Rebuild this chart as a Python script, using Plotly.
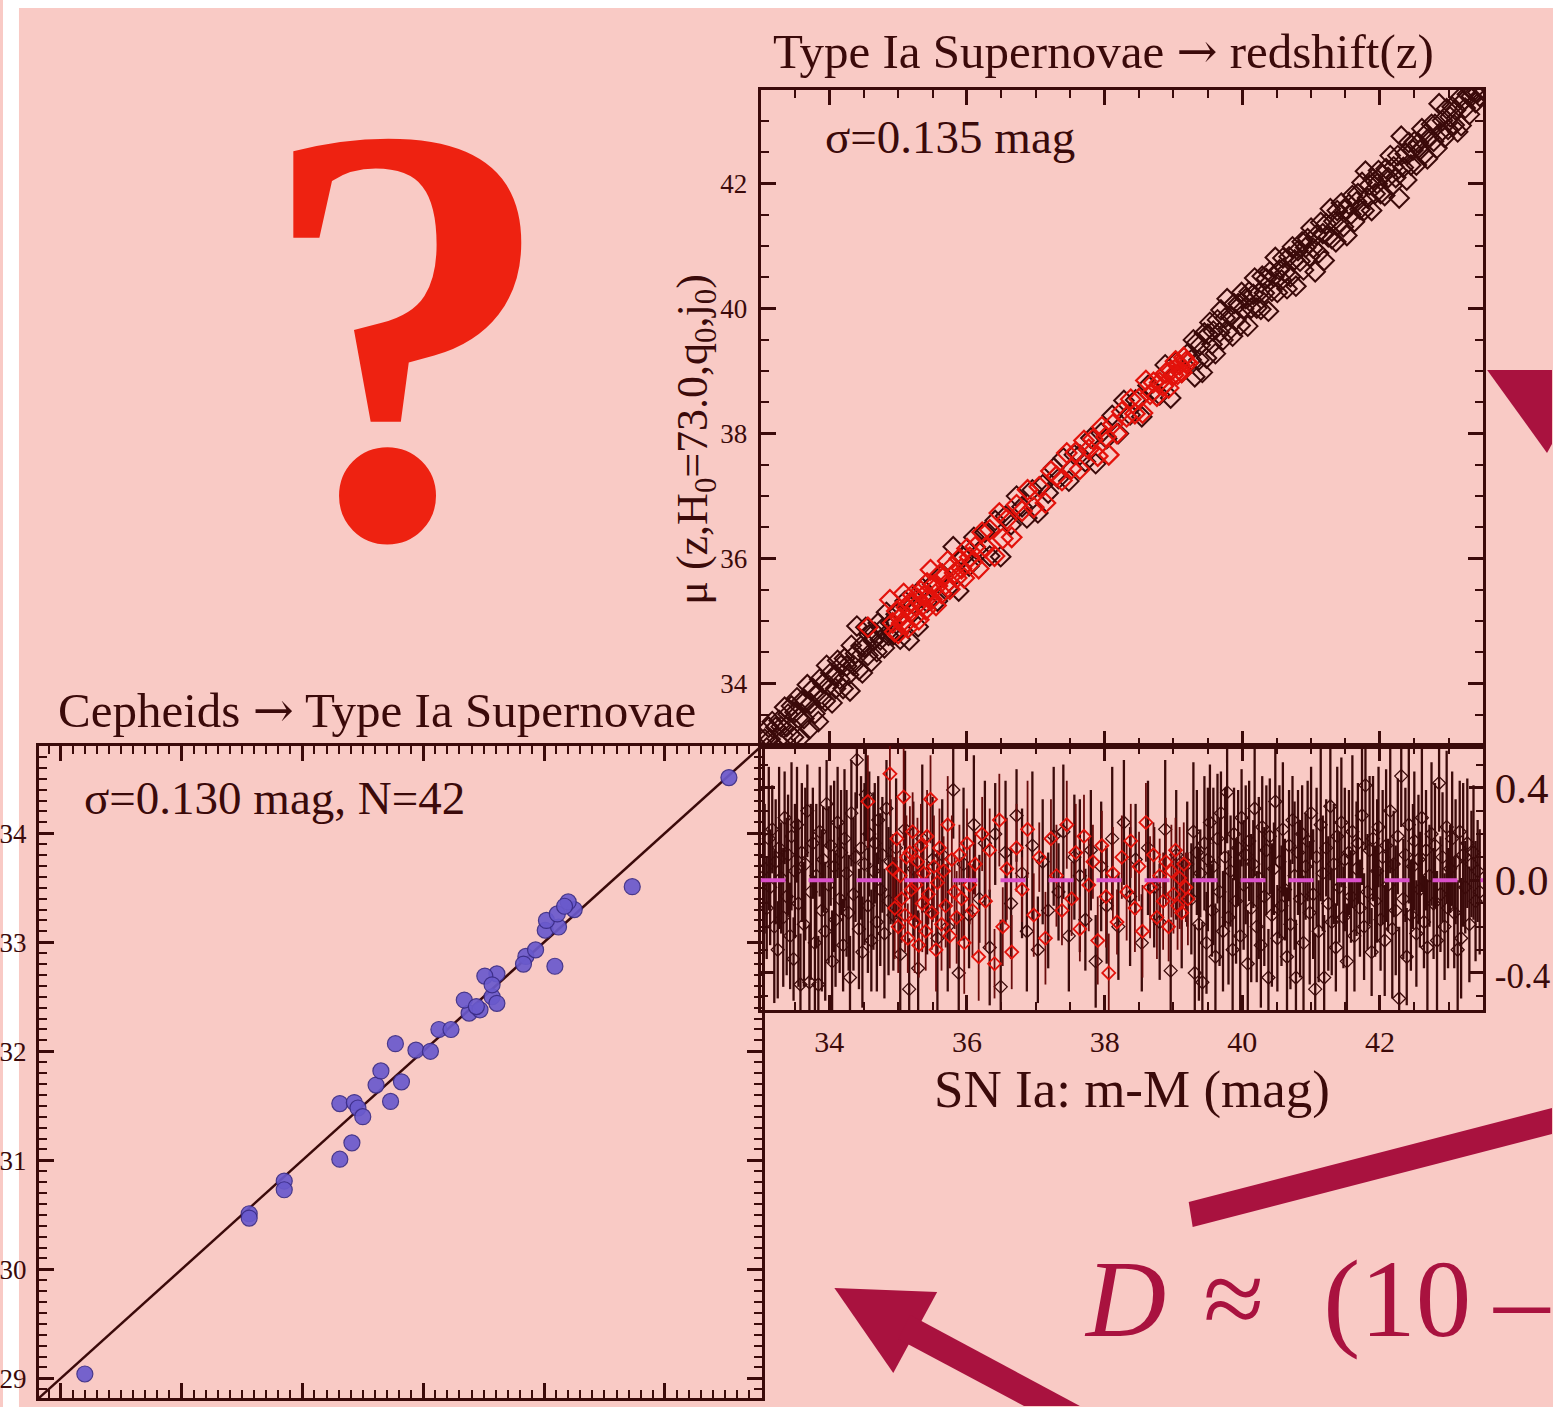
import plotly.graph_objects as go

W, H = 1553, 1407
BG = "#f9cac5"
INK = "#3b0a0a"
BLUE = "#6a5acd"
BLUE_EDGE = "#3a2c86"
RED = "#e3120b"
CRIMSON = "#a9123f"
QRED = "#ee2211"
MAGENTA = "#d94fc8"
FONT = "Liberation Serif"

# ---------------- Cepheids -> SN Ia panel ----------------
CEPH_SN = [29.20, 30.56, 30.56, 30.85, 30.85, 31.31, 31.31, 31.41, 31.43, 31.46,
           31.50, 31.61, 31.65, 31.73, 31.82, 31.77, 31.94, 32.06, 32.13, 32.23,
           32.38, 32.47, 32.34, 32.57, 32.61, 32.61, 32.51, 32.57, 32.85, 32.83,
           32.93, 33.09, 33.01, 33.12, 33.02, 33.11, 33.25, 33.20, 33.73, 34.53,
           33.17, 32.44]
CEPH_MU = [29.04, 30.51, 30.47, 30.81, 30.73, 31.52, 31.01, 31.16, 31.53, 31.48,
           31.40, 31.69, 31.82, 31.54, 31.72, 32.07, 32.01, 32.00, 32.20, 32.20,
           32.35, 32.38, 32.47, 32.50, 32.44, 32.71, 32.69, 32.61, 32.87, 32.80,
           32.93, 32.78, 33.11, 33.14, 33.20, 33.26, 33.30, 33.37, 33.51, 34.51,
           33.33, 32.41]
FIT_LINE = [28.8, 34.8]

# ---------------- SN Ia Hubble diagram ----------------
BLK_X = [33.06, 33.09, 33.12, 33.14, 33.17, 33.2, 33.22, 33.25, 33.27, 33.3,
         33.33, 33.35, 33.38, 33.4, 33.43, 33.45, 33.48, 33.5, 33.53, 33.55,
         33.58, 33.6, 33.63, 33.65, 33.68, 33.71, 33.73, 33.76, 33.79, 33.81,
         33.84, 33.86, 33.89, 33.91, 33.94, 33.96, 33.99, 34.02, 34.04, 34.07,
         34.09, 34.12, 34.15, 34.17, 34.2, 34.22, 34.25, 34.28, 34.3, 34.32,
         34.35, 34.38, 34.4, 34.43, 34.46, 34.48, 34.51, 34.53, 34.56, 34.58,
         34.61, 34.64, 34.66, 34.69, 34.71, 34.74, 34.77, 34.8, 34.83, 34.86,
         34.89, 34.93,
         34.97, 35.03, 35.1, 35.16, 35.22, 35.29, 35.35, 35.42, 35.5, 35.57,
         35.64, 35.72, 35.8, 35.88, 35.95, 36.03, 36.1, 36.18, 36.26, 36.33,
         36.41, 36.49, 36.56, 36.64, 36.72, 36.8, 36.87, 36.95, 37.03, 37.1,
         37.18, 37.26, 37.33, 37.4, 37.48, 37.56, 37.64, 37.72, 37.8, 37.87,
         37.95, 38.03, 38.11, 38.2, 38.28, 38.37, 38.45, 38.54, 38.63, 38.72,
         38.8, 38.88, 38.96, 39.04, 39.12, 39.2,
         39.26, 39.29, 39.31, 39.34, 39.37, 39.39, 39.42, 39.45, 39.48, 39.5,
         39.53, 39.56, 39.58, 39.61, 39.64, 39.67, 39.69, 39.72, 39.75, 39.78,
         39.8, 39.83, 39.86, 39.88, 39.91, 39.94, 39.97, 39.99, 40.02, 40.05,
         40.08, 40.1, 40.13, 40.16, 40.18, 40.21, 40.24, 40.27, 40.29, 40.32,
         40.35, 40.38, 40.4, 40.43, 40.46, 40.48, 40.51, 40.54, 40.57, 40.59,
         40.62, 40.65, 40.68, 40.7, 40.73, 40.76, 40.78, 40.81, 40.84, 40.87,
         40.89, 40.92, 40.95, 40.98, 41.0, 41.03, 41.06, 41.08, 41.11, 41.14,
         41.17, 41.19, 41.22, 41.25, 41.28, 41.3, 41.33, 41.36, 41.38, 41.41,
         41.44, 41.47, 41.49, 41.52, 41.55, 41.58, 41.6, 41.63, 41.66, 41.68,
         41.71, 41.74, 41.77, 41.79, 41.82, 41.85, 41.88, 41.9, 41.93, 41.96,
         41.98, 42.01, 42.04, 42.07, 42.09, 42.12, 42.15, 42.18, 42.2, 42.23,
         42.26, 42.28, 42.31, 42.34, 42.37, 42.39, 42.42, 42.45, 42.48, 42.5,
         42.53, 42.56, 42.58, 42.61, 42.64, 42.67, 42.69, 42.72, 42.75, 42.78,
         42.8, 42.83, 42.86, 42.88, 42.91, 42.94, 42.97, 42.99, 43.02, 43.05,
         43.08, 43.1, 43.13, 43.16, 43.18, 43.21, 43.24, 43.27, 43.3, 43.33,
         43.36, 43.39, 43.42, 43.45]
BLK_R = [0.05, -0.12, 0.18, -0.03, 0.22, -0.2, 0.08, -0.3, 0.14, 0.01,
         -0.16, 0.27, -0.07, 0.11, -0.24, 0.19, -0.34, 0.04, 0.24, -0.1,
         -0.45, 0.12, -0.19, 0.07, 0.3, -0.44, -0.05, 0.16, -0.27, 0.02,
         -0.45, 0.21, -0.13, 0.09, -0.22, 0.33, -0.02, 0.15, -0.35, 0.06,
         -0.17, 0.25, -0.08, 0.12, -0.28, 0.18, 0.03, -0.14, -0.42, 0.29,
         -0.06, 0.1, 0.52, -0.21, 0.14, -0.31, 0.07, 0.37, -0.11, 0.2,
         -0.26, 0.04, 0.16, -0.18, 0.26, -0.04, 0.11, -0.23, 0.31, -0.09,
         0.08, -0.15,
         0.14, -0.32, 0.22, -0.47, 0.05, -0.38, 0.18, -0.12, 0.09, -0.25,
         0.11, -0.2, 0.39, -0.4, 0.07, -0.15, 0.24, -0.08, 0.16, -0.29,
         0.2, -0.46, 0.12, -0.1, 0.28, 0.03, -0.22, 0.15, -0.3, 0.08,
         -0.13, 0.19, -0.05, 0.21, -0.24, 0.1, 0.02, -0.17, 0.13, -0.35,
         0.06, -0.11, 0.18, -0.2, 0.25, -0.07, 0.09, -0.27, 0.14, -0.03,
         -0.18, 0.22, -0.39, 0.11, -0.14, 0.07,
         -0.08, 0.21, -0.4, 0.12, -0.19, 0.03, -0.44, 0.16, -0.27, 0.09,
         0.25, -0.13, 0.06, -0.33, 0.18, -0.05, 0.29, -0.22, 0.1, 0.38,
         -0.16, 0.04, -0.3, 0.2, -0.09, 0.14, -0.24, 0.27, -0.02, 0.11,
         -0.36, 0.17, -0.12, 0.07, 0.31, -0.2, 0.01, -0.28, 0.23, -0.07,
         0.13, -0.42, 0.19, -0.15, 0.05, 0.34, -0.25, 0.08, -0.11, 0.22,
         -0.04, -0.33, 0.15, -0.19, 0.26, 0.02, -0.42, 0.12, -0.08, 0.2,
         -0.27, 0.06, 0.17, -0.14, 0.29, -0.06, -0.47, 0.1, -0.22, 0.24,
         0.03, -0.42, 0.14, -0.1, 0.32, -0.18, 0.07, -0.29, 0.19, -0.03,
         0.25, -0.16, 0.09, -0.35, 0.12, -0.07, 0.21, -0.24, 0.05, 0.16,
         -0.12, 0.28, -0.2, 0.41, -0.05, 0.13, -0.31, 0.18, -0.09, 0.04,
         0.23, -0.17, 0.1, -0.26, 0.15, -0.02, 0.3, -0.21, 0.07, -0.13,
         0.19, -0.51, 0.45, -0.08, 0.11, -0.33, 0.24, -0.15, 0.06, 0.17,
         -0.23, 0.09, -0.04, 0.27, -0.18, 0.13, -0.29, 0.02, 0.2, -0.1,
         0.15, -0.26, 0.42, -0.06, 0.1, -0.2, 0.23, -0.12, 0.05, 0.18,
         -0.14, 0.08, -0.3, 0.21, -0.25, 0.11, -0.03, 0.16, -0.19, 0.07,
         0.12, -0.09, 0.04, -0.05]
BLK_E = [0.28, 0.22, 0.31, 0.25, 0.19, 0.33, 0.27, 0.21, 0.35, 0.24,
         0.3, 0.2, 0.34, 0.26, 0.23, 0.32, 0.18, 0.29, 0.25, 0.36,
         0.22, 0.3, 0.27, 0.33, 0.2, 0.25, 0.38, 0.24, 0.29, 0.31,
         0.21, 0.28, 0.35, 0.23, 0.3, 0.19, 0.34, 0.26, 0.22, 0.37,
         0.29, 0.24, 0.32, 0.27, 0.2, 0.3, 0.36, 0.25, 0.18, 0.23,
         0.33, 0.28, 0.21, 0.26, 0.31, 0.24, 0.35, 0.2, 0.29, 0.27,
         0.22, 0.34, 0.26, 0.3, 0.19, 0.33, 0.25, 0.28, 0.21, 0.32,
         0.27, 0.24,
         0.3, 0.26, 0.34, 0.22, 0.29, 0.25, 0.32, 0.2, 0.27, 0.31,
         0.24, 0.28, 0.21, 0.26, 0.33, 0.23, 0.3, 0.19, 0.27, 0.25,
         0.22, 0.29, 0.31, 0.24, 0.2, 0.28, 0.26, 0.32, 0.23, 0.27,
         0.25, 0.3, 0.21, 0.29, 0.24, 0.27, 0.33, 0.22, 0.26, 0.2,
         0.28, 0.25, 0.31, 0.23, 0.27, 0.3, 0.24, 0.21, 0.29, 0.26,
         0.25, 0.3, 0.22, 0.28, 0.24, 0.27,
         0.24, 0.3, 0.21, 0.27, 0.33, 0.19, 0.26, 0.29, 0.22, 0.31,
         0.25, 0.2, 0.34, 0.23, 0.28, 0.32, 0.18, 0.26, 0.3, 0.22,
         0.29, 0.24, 0.31, 0.2, 0.27, 0.25, 0.33, 0.21, 0.28, 0.3,
         0.23, 0.26, 0.32, 0.19, 0.29, 0.24, 0.35, 0.27, 0.22, 0.3,
         0.28, 0.21, 0.25, 0.31, 0.2, 0.27, 0.23, 0.33, 0.26, 0.29,
         0.22, 0.3, 0.24, 0.28, 0.19, 0.32, 0.25, 0.27, 0.34, 0.21,
         0.29, 0.23, 0.26, 0.31, 0.2, 0.28, 0.24, 0.3, 0.22, 0.33,
         0.25, 0.27, 0.21, 0.29, 0.32, 0.23, 0.26, 0.19, 0.3, 0.24,
         0.28, 0.22, 0.31, 0.25, 0.27, 0.2, 0.33, 0.24, 0.29, 0.26,
         0.21, 0.3, 0.23, 0.28, 0.25, 0.32, 0.19, 0.27, 0.24, 0.31,
         0.26, 0.22, 0.29, 0.24, 0.33, 0.2, 0.27, 0.3, 0.23, 0.28,
         0.25, 0.31, 0.22, 0.26, 0.29, 0.21, 0.34, 0.24, 0.27, 0.3,
         0.23, 0.28, 0.25, 0.32, 0.2, 0.26, 0.29, 0.22, 0.31, 0.24,
         0.27, 0.3, 0.21, 0.25, 0.28, 0.23, 0.33, 0.26, 0.19, 0.29,
         0.24, 0.27, 0.3, 0.22, 0.26, 0.31, 0.2, 0.28, 0.25, 0.23,
         0.29, 0.26, 0.22, 0.27]

RED_X = [34.56, 34.88, 34.92, 34.95, 34.98, 35.0, 35.03, 35.05, 35.08, 35.1,
         35.12, 35.14, 35.17, 35.19, 35.21, 35.24, 35.26, 35.28, 35.3, 35.33,
         35.35, 35.37, 35.4, 35.42, 35.44, 35.47, 35.49, 35.52, 35.55, 35.57,
         35.6, 35.63, 35.66, 35.69, 35.72, 35.75, 35.78, 35.82, 35.85, 35.89,
         35.92, 35.96, 36.0, 36.04, 36.08, 36.12, 36.17, 36.22, 36.27, 36.33,
         36.4, 36.47, 36.52, 36.58, 36.65, 36.72, 36.8, 36.88, 36.97, 37.05,
         37.14, 37.22, 37.3, 37.38, 37.45, 37.52, 37.58, 37.64, 37.7, 37.77,
         37.83, 37.9, 37.96, 38.02, 38.06, 38.12, 38.18, 38.25, 38.32, 38.38,
         38.44, 38.5, 38.55, 38.6, 38.66, 38.71, 38.76, 38.8, 38.85, 38.89,
         38.93, 38.97, 39.0, 39.03, 39.06, 39.09, 39.12, 39.15, 39.18, 39.21]
RED_R = [0.34, 0.46, 0.05, -0.12, 0.18, -0.2, 0.02, -0.08, 0.36, -0.15,
         0.1, -0.25, 0.12, -0.04, 0.21, -0.18, -0.02, 0.08, -0.28, 0.15,
         -0.1, 0.03, -0.22, 0.19, -0.06, 0.35, -0.14, 0.06, -0.3, -0.01,
         0.14, -0.19, 0.04, -0.11, 0.24, -0.24, 0.09, -0.05, -0.16, 0.11,
         -0.08, -0.27, 0.16, -0.02, -0.13, 0.07, -0.33, 0.2, -0.09, 0.13,
         -0.36, 0.26, -0.2, 0.05, -0.31, 0.14, -0.04, 0.22, -0.15, 0.1,
         -0.25, 0.18, 0.02, -0.13, 0.24, -0.08, 0.12, -0.21, 0.19, -0.02,
         0.08, -0.26, 0.15, -0.07, -0.4, 0.03, -0.18, 0.1, -0.05, 0.17,
         -0.12, 0.06, -0.22, 0.25, -0.03, 0.11, -0.16, 0.02, -0.09, 0.08,
         -0.2, 0.04, -0.06, 0.13, -0.11, 0.01, -0.14, 0.07, -0.03, -0.08]
RED_E = [0.2, 0.18, 0.15, 0.22, 0.17, 0.2, 0.14, 0.19, 0.21, 0.16,
         0.18, 0.15, 0.2, 0.13, 0.17, 0.22, 0.16, 0.19, 0.14, 0.18,
         0.21, 0.15, 0.17, 0.2, 0.13, 0.19, 0.16, 0.22, 0.18, 0.14,
         0.17, 0.2, 0.15, 0.18, 0.21, 0.14, 0.19, 0.16, 0.2, 0.13,
         0.18, 0.22, 0.15, 0.17, 0.2, 0.14, 0.19, 0.16, 0.21, 0.18,
         0.15, 0.2, 0.17, 0.22, 0.16, 0.19, 0.14, 0.21, 0.18, 0.15,
         0.2, 0.17, 0.22, 0.15, 0.19, 0.16, 0.21, 0.14, 0.18, 0.2,
         0.16, 0.19, 0.15, 0.22, 0.17, 0.2, 0.14, 0.18, 0.21, 0.16,
         0.19, 0.15, 0.2, 0.17, 0.22, 0.14, 0.18, 0.16, 0.21, 0.19,
         0.15, 0.2, 0.17, 0.14, 0.19, 0.22, 0.16, 0.18, 0.15, 0.2]

RES_TICKS = [-0.4, 0.0, 0.4]
RES_TICK_TEXT = ["<span style='font-size:35px'>-0.4</span>", "0.0", "0.4"]

nb = min(len(BLK_X), len(BLK_R), len(BLK_E))
BLK_X, BLK_R, BLK_E = BLK_X[:nb], BLK_R[:nb], BLK_E[:nb]
nr = min(len(RED_X), len(RED_R), len(RED_E))
RED_X, RED_R, RED_E = RED_X[:nr], RED_R[:nr], RED_E[:nr]
BLK_MU = [x + r for x, r in zip(BLK_X, BLK_R)]
RED_MU = [x + r for x, r in zip(RED_X, RED_R)]


def px(x):
    return x / W


def py(y):
    return 1 - y / H


def poly(points):
    pts = ["{:.5f},{:.5f}".format(px(a), py(b)) for a, b in points]
    return "M " + " L ".join(pts) + " Z"


fig = go.Figure()

# Cepheid panel
fig.add_trace(go.Scatter(x=FIT_LINE, y=FIT_LINE, mode="lines",
                         line=dict(color=INK, width=2.5), xaxis="x", yaxis="y"))
fig.add_trace(go.Scatter(x=CEPH_SN, y=CEPH_MU, mode="markers",
                         marker=dict(symbol="circle", size=16, color=BLUE, opacity=0.92,
                                     line=dict(color=BLUE_EDGE, width=1.2)),
                         xaxis="x", yaxis="y"))

# Hubble diagram
fig.add_trace(go.Scatter(x=BLK_X, y=BLK_MU, mode="markers",
                         marker=dict(symbol="diamond-open", size=15,
                                     color=INK, line=dict(color=INK, width=2.0)),
                         xaxis="x2", yaxis="y2"))
fig.add_trace(go.Scatter(x=RED_X, y=RED_MU, mode="markers",
                         marker=dict(symbol="diamond-open", size=15,
                                     color=RED, line=dict(color=RED, width=2.2)),
                         xaxis="x2", yaxis="y2"))

# Residuals
fig.add_trace(go.Scatter(x=BLK_X, y=BLK_R, mode="markers",
                         error_y=dict(type="data", array=BLK_E, visible=True,
                                      color=INK, thickness=2.3, width=0),
                         marker=dict(symbol="diamond-open", size=10,
                                     color=INK, line=dict(color=INK, width=1.3)),
                         xaxis="x3", yaxis="y3"))
fig.add_trace(go.Scatter(x=RED_X, y=RED_R, mode="markers",
                         error_y=dict(type="data", array=RED_E, visible=True,
                                      color="#6a0c0c", thickness=1.8, width=0),
                         marker=dict(symbol="diamond-open", size=10,
                                     color=RED, line=dict(color=RED, width=1.8)),
                         xaxis="x3", yaxis="y3"))

axis_common = dict(showline=True, linecolor=INK, linewidth=3, mirror="allticks",
                   ticks="inside", tickcolor=INK, tickwidth=2.5, showgrid=False,
                   zeroline=False, tickfont=dict(family=FONT, color=INK))


def ax(**kw):
    d = dict(axis_common)
    d.update(kw)
    return d


X_LEFT, X_MID, X_RIGHT = 36, 759, 1483
Y_TOP, Y_MID, Y_RES, Y_BOT = 90, 746, 1010, 1398

fig.update_layout(
    width=W, height=H, autosize=False, margin=dict(l=0, r=0, t=0, b=0),
    paper_bgcolor=BG, plot_bgcolor="rgba(0,0,0,0)", showlegend=False,
    hovermode=False,
    xaxis=ax(domain=[px(X_LEFT), px(X_MID + 1)], range=[28.82, 34.8], anchor="y",
             tick0=29, dtick=1, ticklen=15, showticklabels=False,
             minor=dict(ticks="inside", dtick=0.1, ticklen=8, tickwidth=2,
                        tickcolor=INK, showgrid=False)),
    yaxis=ax(domain=[py(Y_BOT), py(Y_MID)], range=[28.82, 34.8], anchor="x",
             tick0=29, dtick=1, ticklen=15, tickfont=dict(family=FONT, color=INK, size=27),
             ticklabelstandoff=4,
             minor=dict(ticks="inside", dtick=0.1, ticklen=8, tickwidth=2,
                        tickcolor=INK, showgrid=False)),
    xaxis2=ax(domain=[px(X_MID), px(X_RIGHT)], range=[33.0, 43.5], anchor="y2",
              tick0=34, dtick=2, ticklen=15, showticklabels=False,
              minor=dict(ticks="inside", dtick=0.5, ticklen=8, tickwidth=2,
                         tickcolor=INK, showgrid=False)),
    yaxis2=ax(domain=[py(Y_MID), py(Y_TOP)], range=[33.0, 43.5], anchor="x2",
              tick0=34, dtick=2, ticklen=15, tickfont=dict(family=FONT, color=INK, size=27),
              ticklabelstandoff=5,
              minor=dict(ticks="inside", dtick=0.5, ticklen=8, tickwidth=2,
                         tickcolor=INK, showgrid=False)),
    xaxis3=ax(domain=[px(X_MID), px(X_RIGHT)], range=[33.0, 43.5], anchor="y3",
              tick0=34, dtick=2, ticklen=15, tickfont=dict(family=FONT, color=INK, size=30),
              ticklabelstandoff=3,
              minor=dict(ticks="inside", dtick=0.5, ticklen=8, tickwidth=2,
                         tickcolor=INK, showgrid=False)),
    yaxis3=ax(domain=[py(Y_RES), py(Y_MID)], range=[-0.56, 0.58], anchor="x3",
              side="right", tickvals=RES_TICKS, ticktext=RES_TICK_TEXT,
              ticklen=14, tickfont=dict(family=FONT, color=INK, size=43),
              ticklabelstandoff=0,
              minor=dict(ticks="inside", dtick=0.1, tick0=0, ticklen=7, tickwidth=2,
                         tickcolor=INK, showgrid=False)),
)

shapes = [
    # white page margins
    dict(type="rect", xref="paper", yref="paper", x0=0, x1=px(16), y0=0, y1=1,
         fillcolor="white", line=dict(width=0), layer="below"),
    dict(type="rect", xref="paper", yref="paper", x0=0, x1=1, y0=py(8), y1=1,
         fillcolor="white", line=dict(width=0), layer="below"),
    # zero line in residuals
    dict(type="line", xref="x3", yref="y3", x0=33.0, x1=43.5, y0=0, y1=0,
         line=dict(color=MAGENTA, width=4, dash="25px,23px")),
    # arrows (clipped at the picture edge)
    dict(type="path", xref="paper", yref="paper",
         path=poly([(1487, 370), (1552, 370), (1552, 444), (1547, 453)]),
         fillcolor=CRIMSON, line=dict(width=0)),
    dict(type="path", xref="paper", yref="paper",
         path=poly([(1188, 1202), (1552, 1108), (1552, 1134), (1192, 1227)]),
         fillcolor=CRIMSON, line=dict(width=0)),
    dict(type="path", xref="paper", yref="paper",
         path=poly([(833, 1288), (936, 1292), (892, 1373)]),
         fillcolor=CRIMSON, line=dict(width=0)),
    dict(type="path", xref="paper", yref="paper",
         path=poly([(909, 1315), (1079, 1406), (1023, 1406), (897, 1339)]),
         fillcolor=CRIMSON, line=dict(width=0)),
]
fig.update_layout(shapes=shapes)


def note(text, x, y, size, color=INK, xanchor="left", yanchor="middle", angle=0,
         bold=False):
    fig.add_annotation(text=text, x=px(x), y=py(y), xref="paper", yref="paper",
                       xanchor=xanchor, yanchor=yanchor, showarrow=False,
                       textangle=angle,
                       font=dict(family=FONT, size=size, color=color,
                                 weight="bold" if bold else "normal"))


ARROW = "<span style=\"font-family:'DejaVu Serif'\">\u2192</span>"
note("Type Ia Supernovae " + ARROW + " redshift(z)", 769, 51, 49)
note("Cepheids " + ARROW + " Type Ia Supernovae", 53, 710, 49)
note("\u03c3=0.135 mag", 822, 137, 47)
note("\u03c3=0.130 mag, N=42", 79, 798, 47)
note("SN Ia: m-M (mag)", 1131, 1089, 53, xanchor="center")
note("\u03bc (z,H<sub>0</sub>=73.0,q<sub>0</sub>,j<sub>0</sub>)", 693, 440, 44,
     xanchor="center", angle=-90)
note("?", 405, -1, 600, color=QRED, xanchor="center", yanchor="top", bold=True)
note("<i>D</i> \u200a\u2248 \u2009\u200a(10", 1081, 1298, 111, color=CRIMSON)
note("\u2013", 1553, 1298, 111, color=CRIMSON, xanchor="right")

fig.write_html("out.html")
